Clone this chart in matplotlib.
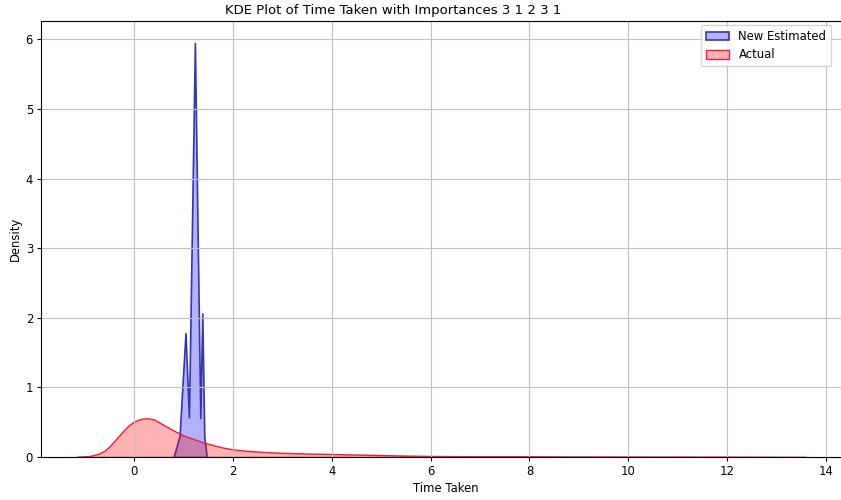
import matplotlib.pyplot as plt

# Density curves
est_x = [0.80, 0.92, 1.04, 1.11, 1.23, 1.34, 1.38, 1.42, 1.47]
est_density = [0.0, 0.3, 1.78, 0.57, 5.95, 0.56, 2.06, 0.3, 0.0]

act_x = [-1.17, -0.9, -0.7, -0.6, -0.5, -0.4, -0.3, -0.2, -0.1, 0.0, 0.1, 0.2, 0.3,
         0.4, 0.5, 0.6, 0.7, 0.8, 0.9, 1.0, 1.2, 1.4, 1.6, 1.8, 2.0, 2.3, 2.6, 3.0,
         3.5, 4.0, 4.5, 5.0, 5.5, 6.0, 7.0, 8.0, 9.0, 10.0, 11.0, 12.0, 13.0, 13.6]
act_density = [0.0, 0.015, 0.05, 0.09, 0.15, 0.23, 0.31, 0.39, 0.46, 0.51, 0.54, 0.555, 0.555,
               0.54, 0.50, 0.46, 0.42, 0.38, 0.345, 0.31, 0.26, 0.21, 0.17, 0.135, 0.11, 0.088, 0.073, 0.06,
               0.05, 0.043, 0.035, 0.028, 0.02, 0.015, 0.01, 0.008, 0.006, 0.005, 0.004, 0.003, 0.001, 0.0]

fig = plt.figure(figsize=(8.41, 5), dpi=100)
ax = fig.add_axes([0.0484, 0.086, 0.963, 0.8726])

ax.fill_between(est_x, est_density, facecolor=(0, 0, 1, 0.3), edgecolor='#3535b0',
                linewidth=1.2, label='New Estimated')
ax.fill_between(act_x, act_density, facecolor=(1, 0, 0, 0.3), edgecolor='#e8203a',
                linewidth=1.0, label='Actual')

ax.set_ylim(0, 6.27)
ax.set_xlim(-1.89, 14.5)
ax.set_title('KDE Plot of Time Taken with Importances 3 1 2 3 1', fontsize=9.5, pad=5, x=0.435)
ax.set_xlabel('Time Taken', fontsize=8.4, labelpad=3)
ax.set_ylabel('Density', fontsize=8.4, labelpad=3)
ax.tick_params(labelsize=8.4, length=3, pad=2.5)
ax.grid(True, color='#c0c0c0')
ax.legend(loc='upper right', fontsize=8.4, bbox_to_anchor=(831 / 841, 1 - 25 / 500),
          bbox_transform=fig.transFigure, borderaxespad=0)

fig.savefig('out.png', dpi=100)
